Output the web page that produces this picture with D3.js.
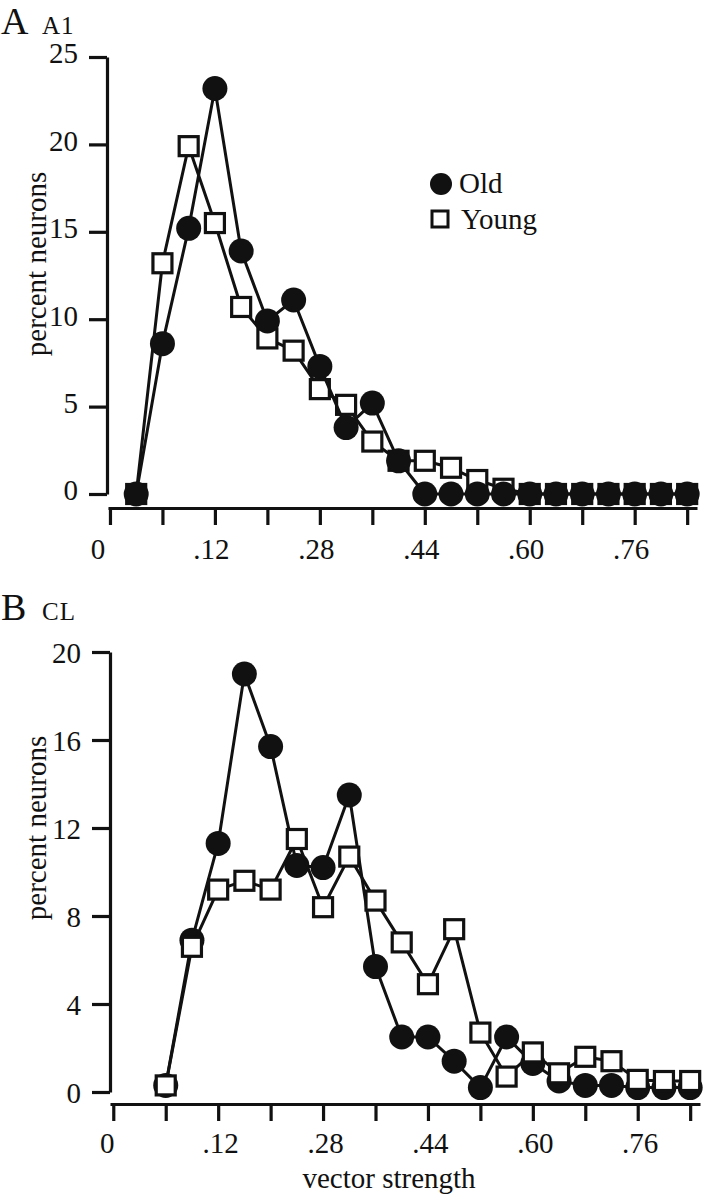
<!DOCTYPE html>
<html>
<head>
<meta charset="utf-8">
<script src="https://cdn.jsdelivr.net/npm/d3@7"></script>
<style>
  html, body { margin: 0; padding: 0; background: #fff; }
  svg { display: block; }
  text { font-family: "Liberation Serif", "DejaVu Serif", serif; fill: #111; }
</style>
</head>
<body>
<svg id="chart" width="703" height="1199"></svg>
<script>
// ---- Data ----
const binsA = [0.00, 0.04, 0.08, 0.12, 0.16, 0.20, 0.24, 0.28, 0.32, 0.36, 0.40, 0.44, 0.48, 0.52, 0.56, 0.60, 0.64, 0.68, 0.72, 0.76, 0.80, 0.84];
const oldA   = [0, 8.6, 15.2, 23.2, 13.9, 9.9, 11.1, 7.3, 3.8, 5.2, 1.9, 0, 0, 0, 0, 0, 0, 0, 0, 0, 0, 0];
const youngA = [0, 13.2, 19.9, 15.5, 10.7, 8.9, 8.2, 6.0, 5.1, 3.0, 1.9, 1.9, 1.5, 0.8, 0.3, 0, 0, 0, 0, 0, 0, 0];

const binsB = [0.04, 0.08, 0.12, 0.16, 0.20, 0.24, 0.28, 0.32, 0.36, 0.40, 0.44, 0.48, 0.52, 0.56, 0.60, 0.64, 0.68, 0.72, 0.76, 0.80, 0.84];
const oldB   = [0.3, 6.9, 11.3, 19.0, 15.7, 10.3, 10.2, 13.5, 5.7, 2.5, 2.5, 1.4, 0.2, 2.5, 1.3, 0.5, 0.3, 0.3, 0.2, 0.2, 0.2];
const youngB = [0.3, 6.6, 9.2, 9.6, 9.2, 11.5, 8.4, 10.7, 8.7, 6.8, 4.9, 7.4, 2.7, 0.7, 1.8, 0.85, 1.6, 1.4, 0.55, 0.5, 0.5];

const xTickValues = [-0.04, 0.04, 0.12, 0.20, 0.28, 0.36, 0.44, 0.52, 0.60, 0.68, 0.76, 0.84];
const xLabelValues = [-0.053, 0.12, 0.28, 0.44, 0.60, 0.76];
const xLabelTexts  = ["0", ".12", ".28", ".44", ".60", ".76"];
const yTicksA = [0, 5, 10, 15, 20, 25];
const yTicksB = [0, 4, 8, 12, 16, 20];
const seriesNames = ["Old", "Young"];

// ---- Drawing ----
const svg = d3.select("#chart");
const INK = "#111";

function panel(cfg) {
  const g = svg.append("g");
  const x = d3.scaleLinear().domain(cfg.xDomain).range(cfg.xRange);
  const y = d3.scaleLinear().domain(cfg.yDomain).range(cfg.yRange);

  // y axis
  const ya = g.append("g").attr("transform", `translate(${cfg.yAxisX},0)`)
    .call(d3.axisLeft(y).tickValues(cfg.yTicks).tickSize(18).tickSizeOuter(0).tickPadding(11).tickFormat(d3.format("d")));
  ya.select(".domain").attr("stroke", INK).attr("stroke-width", 3.2);
  ya.selectAll(".tick line").attr("stroke", INK).attr("stroke-width", 3.2);
  ya.selectAll(".tick text").attr("font-size", 29).attr("fill", INK)
    .attr("font-family", "Liberation Serif").attr("dy", cfg.yLabelDy);

  // x axis (ticks)
  const xa = g.append("g").attr("transform", `translate(0,${cfg.xAxisY})`)
    .call(d3.axisBottom(x).tickValues(xTickValues).tickSize(17).tickSizeOuter(0).tickFormat(""));
  xa.select(".domain").attr("stroke", INK).attr("stroke-width", 3.2);
  xa.selectAll(".tick line").attr("stroke", INK).attr("stroke-width", 3.2);

  // x axis labels
  const xl = g.append("g").attr("transform", `translate(${cfg.xLabelDx},${cfg.xAxisY})`)
    .call(d3.axisBottom(x).tickValues(xLabelValues).tickSize(0).tickPadding(cfg.xLabelPad)
      .tickFormat((d, i) => xLabelTexts[i]));
  xl.select(".domain").remove();
  xl.selectAll(".tick text").attr("font-size", 29).attr("fill", INK).attr("font-family", "Liberation Serif");

  // y axis title
  g.append("text")
    .attr("transform", `translate(${cfg.yTitleX},${cfg.yTitleY}) rotate(-90)`)
    .attr("text-anchor", "middle").attr("font-size", 29).text("percent neurons");

  // panel labels
  g.append("text").attr("x", 1).attr("y", cfg.labelY).attr("font-size", 38).text(cfg.letter);
  g.append("text").attr("x", 42).attr("y", cfg.labelY).attr("font-size", 25).attr("letter-spacing", 1).text(cfg.sub);

  const line = d3.line().x(d => x(d[0])).y(d => y(d[1]));
  const oldPts = cfg.bins.map((b, i) => [b, cfg.old[i]]);
  const youngPts = cfg.bins.map((b, i) => [b, cfg.young[i]]);

  function drawOld() {
    g.append("path").datum(oldPts).attr("d", line).attr("fill", "none")
      .attr("stroke", INK).attr("stroke-width", 3).attr("stroke-linejoin", "round");
    g.append("g").selectAll("circle").data(oldPts).join("circle")
      .attr("cx", d => x(d[0])).attr("cy", d => y(d[1])).attr("r", 12.5).attr("fill", INK);
  }
  function drawYoung() {
    g.append("path").datum(youngPts).attr("d", line).attr("fill", "none")
      .attr("stroke", INK).attr("stroke-width", 3).attr("stroke-linejoin", "round");
    const s = 19;
    g.append("g").selectAll("rect").data(youngPts).join("rect")
      .attr("x", d => x(d[0]) - s / 2).attr("y", d => y(d[1]) - s / 2)
      .attr("width", s).attr("height", s)
      .attr("fill", "#fff").attr("stroke", INK).attr("stroke-width", 3.2);
  }
  if (cfg.youngOnTop) { drawOld(); drawYoung(); } else { drawYoung(); drawOld(); }
  return g;
}

panel({
  letter: "A", sub: "A1", labelY: 34,
  bins: binsA, old: oldA, young: youngA,
  xDomain: [-0.043, 0.855], xRange: [108, 697],
  yDomain: [0, 25], yRange: [494, 57], yTicks: yTicksA,
  yAxisX: 107, xAxisY: 508, xLabelDx: -4, xLabelPad: 30, yLabelDy: "0.2em",
  yTitleX: 46, yTitleY: 264, youngOnTop: false
});

panel({
  letter: "B", sub: "CL", labelY: 620,
  bins: binsB, old: oldB, young: youngB,
  xDomain: [-0.045, 0.855], xRange: [110, 700],
  yDomain: [0, 20], yRange: [1092, 652], yTicks: yTicksB,
  yAxisX: 110, xAxisY: 1104, xLabelDx: 2, xLabelPad: 28, yLabelDy: "0.36em",
  yTitleX: 46, yTitleY: 828, youngOnTop: true
});

// x axis title (panel B)
svg.append("text").attr("x", 389).attr("y", 1188).attr("text-anchor", "middle")
  .attr("font-size", 29).text("vector strength");

// legend (panel A)
const legend = svg.append("g");
legend.append("circle").attr("cx", 441).attr("cy", 184).attr("r", 11).attr("fill", INK);
legend.append("text").attr("x", 459).attr("y", 193).attr("font-size", 29).text(seriesNames[0]);
legend.append("rect").attr("x", 432).attr("y", 211).attr("width", 16).attr("height", 16)
  .attr("fill", "#fff").attr("stroke", INK).attr("stroke-width", 3);
legend.append("text").attr("x", 461).attr("y", 229).attr("font-size", 29).text(seriesNames[1]);
</script>
</body>
</html>
